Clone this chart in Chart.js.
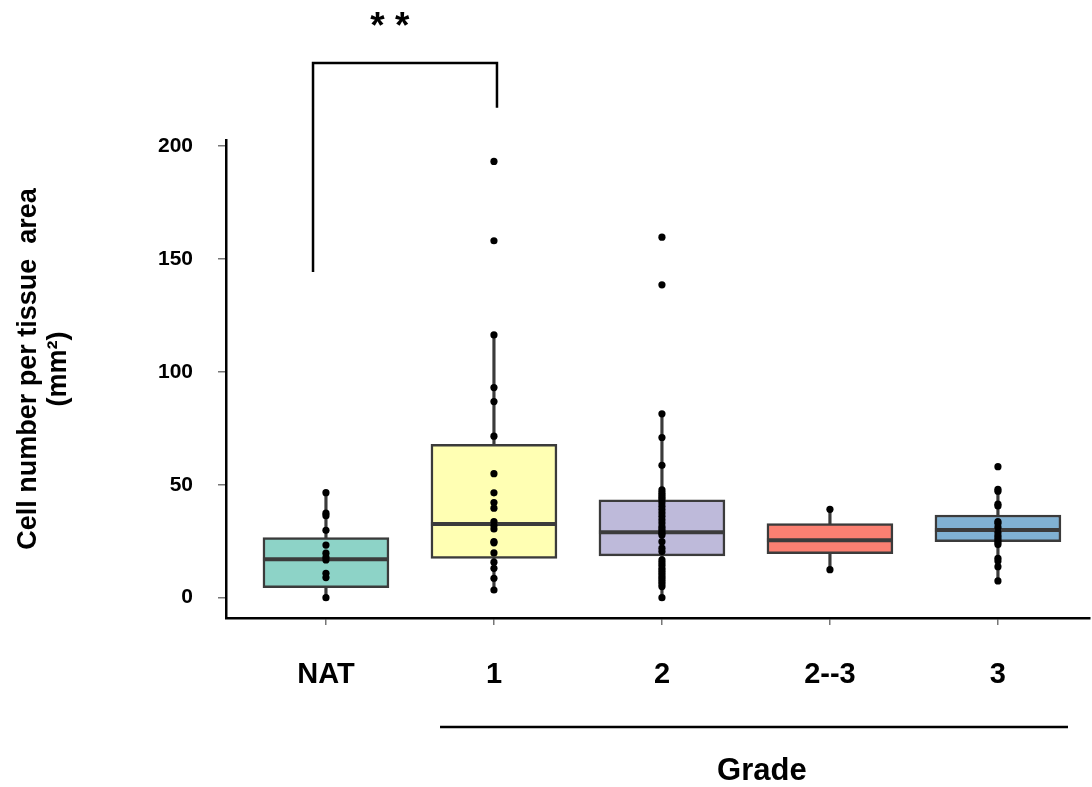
<!DOCTYPE html>
<html>
<head>
<meta charset="utf-8">
<script src="https://cdn.jsdelivr.net/npm/chart.js@4.4.1/dist/chart.umd.min.js"></script>
<style>
  html, body { margin: 0; padding: 0; background: #ffffff; }
  #wrap { width: 1092px; height: 787px; position: relative; }
</style>
</head>
<body>
<div id="wrap"><canvas id="chart" width="1092" height="787"></canvas></div>
<script>
// Groups along the x axis
const categories = ['NAT', '1', '2', '2--3', '3'];

// Box statistics per group
const q1 = [4.4, 17.4, 18.5, 19.5, 24.8];
const medians = [17.0, 32.6, 29.0, 25.4, 30.0];
const q3 = [26.6, 67.9, 43.3, 32.8, 36.6];
const whiskerLow = [0, 3.4, 0, 12.4, 7.4];
const whiskerHigh = [46.5, 116.3, 81.4, 39.1, 48.0];

// Individual observations (cells per mm²)
const natValues = [46.5, 37.4, 36.3, 29.8, 23.3, 19.7, 17.9, 16.7, 10.8, 8.9, 0];
const grade1Values = [193.1, 158.0, 116.3, 93.0, 86.8, 71.5, 54.9, 46.4, 42.1, 39.6,
  33.7, 31.9, 30.4, 24.8, 24.3, 19.8, 15.7, 13.0, 8.6, 3.4];
const grade2Values = [159.6, 138.5, 81.4, 70.9, 58.6, 47.7, 46.5, 45.5, 44.5, 43.5,
  42.0, 40.5, 39.0, 37.5, 36.0, 34.5, 33.0, 31.5, 30.5, 29.5, 28.5, 27.7, 24.8, 21.9,
  20.4, 16.7, 15.5, 14.3, 13.0, 12.0, 11.0, 10.0, 9.0, 8.0, 7.0, 6.0, 4.9, 0];
const grade23Values = [39.1, 12.4];
const grade3Values = [58.0, 48.0, 47.1, 41.4, 40.6, 33.7, 32.9, 31.2, 28.8, 27.5,
  26.5, 25.5, 24.5, 23.5, 17.4, 16.2, 13.7, 7.4];
const groupValues = [natValues, grade1Values, grade2Values, grade23Values, grade3Values];

// Axis tick values
const yTicks = [0, 50, 100, 150, 200];

// Significance bracket between NAT and grade 1
const bracketX = [-0.077, 1.018];
const bracketTop = 236.7;
const bracketLegEnds = [144.2, 216.9];
const bracketLabel = '* *';
const bracketLabelPos = [0.38, 252.3];

// Grade group underline and caption
const gradeLineX = [0.679, 4.417];
const gradeLineY = -57.3;
const gradeLabel = 'Grade';
const gradeLabelPos = [2.595, -76.8];

const yTitle = ['Cell number per tissue  area', '(mm²)'];

const boxColors = ['#8DD3C7', '#FFFFB3', '#BEBADA', '#FB8072', '#80B1D3'];
const edge = '#3b3b3b';
const FONT = "'Liberation Sans', Arial, Helvetica, sans-serif";

const points = [];
groupValues.forEach((vals, i) => vals.forEach(v => points.push({ x: i, y: v })));

const annotations = {
  id: 'annotations',
  afterDraw(chart) {
    const { ctx, scales: { x, y } } = chart;
    ctx.save();
    ctx.strokeStyle = '#000';
    ctx.fillStyle = '#000';
    ctx.lineWidth = 2.5;
    ctx.lineCap = 'butt';

    // bracket
    const xl = x.getPixelForValue(bracketX[0]);
    const xr = x.getPixelForValue(bracketX[1]);
    const yt = y.getPixelForValue(bracketTop);
    ctx.beginPath();
    ctx.moveTo(xl, y.getPixelForValue(bracketLegEnds[0]));
    ctx.lineTo(xl, yt);
    ctx.lineTo(xr, yt);
    ctx.lineTo(xr, y.getPixelForValue(bracketLegEnds[1]));
    ctx.stroke();

    ctx.font = 'bold 37px ' + FONT;
    ctx.textAlign = 'center';
    ctx.textBaseline = 'middle';
    ctx.fillText(bracketLabel, x.getPixelForValue(bracketLabelPos[0]), y.getPixelForValue(bracketLabelPos[1]));

    // grade underline
    ctx.beginPath();
    const gy = y.getPixelForValue(gradeLineY);
    ctx.moveTo(x.getPixelForValue(gradeLineX[0]), gy);
    ctx.lineTo(x.getPixelForValue(gradeLineX[1]), gy);
    ctx.stroke();

    ctx.font = 'bold 31px ' + FONT;
    ctx.fillText(gradeLabel, x.getPixelForValue(gradeLabelPos[0]), y.getPixelForValue(gradeLabelPos[1]));

    // y axis title
    ctx.font = 'bold 27px ' + FONT;
    const cy = 369;
    [29, 59].forEach((tx, i) => {
      ctx.save();
      ctx.translate(tx, cy);
      ctx.rotate(-Math.PI / 2);
      ctx.fillText(yTitle[i], 0, 0);
      ctx.restore();
    });
    ctx.restore();
  }
};

new Chart(document.getElementById('chart'), {
  type: 'bar',
  data: {
    datasets: [
      {
        type: 'line',
        label: 'observations',
        data: points,
        showLine: false,
        pointRadius: 3.6,
        pointBackgroundColor: '#000',
        pointBorderWidth: 0,
        order: 0
      },
      {
        type: 'line',
        label: 'median',
        data: medians.map((m, i) => ({ x: i, y: m })),
        showLine: false,
        pointStyle: 'line',
        pointRadius: 63,
        pointBorderColor: edge,
        pointBorderWidth: 4,
        order: 1
      },
      {
        label: 'box',
        data: q1.map((v, i) => ({ x: i, y: [v, q3[i]] })),
        backgroundColor: boxColors,
        borderColor: edge,
        borderWidth: 2.5,
        borderSkipped: false,
        barThickness: 126,
        grouped: false,
        order: 2
      },
      {
        label: 'whisker',
        data: whiskerLow.map((v, i) => ({ x: i, y: [v, whiskerHigh[i]] })),
        backgroundColor: edge,
        borderWidth: 0,
        barThickness: 2.5,
        grouped: false,
        order: 3
      }
    ]
  },
  options: {
    responsive: false,
    animation: false,
    events: [],
    layout: { padding: { top: 140, right: 2, bottom: 0, left: 0 }, autoPadding: false },
    plugins: { legend: { display: false }, tooltip: { enabled: false } },
    scales: {
      x: {
        type: 'linear',
        offset: false,
        min: -0.595,
        max: 4.548,
        afterBuildTicks: s => { s.ticks = categories.map((_, i) => ({ value: i })); },
        afterFit: s => { s.height = 169; },
        ticks: {
          callback: v => categories[v],
          color: '#000',
          font: { family: FONT, size: 29, weight: 'bold' },
          padding: 33,
          maxRotation: 0,
          autoSkip: false
        },
        grid: { offset: false, drawOnChartArea: false, tickLength: 7, color: '#777', lineWidth: 1.5 },
        border: { color: '#000', width: 2.5 }
      },
      y: {
        min: -9,
        max: 202.6,
        afterBuildTicks: s => { s.ticks = yTicks.map(v => ({ value: v })); },
        afterFit: s => { s.width = 226; },
        ticks: {
          color: '#000',
          font: { family: FONT, size: 21, weight: 'bold' },
          padding: 25
        },
        grid: { drawOnChartArea: false, tickLength: 8, color: '#777', lineWidth: 1.5 },
        border: { color: '#000', width: 2.5 }
      }
    }
  },
  plugins: [annotations]
});
</script>
</body>
</html>
